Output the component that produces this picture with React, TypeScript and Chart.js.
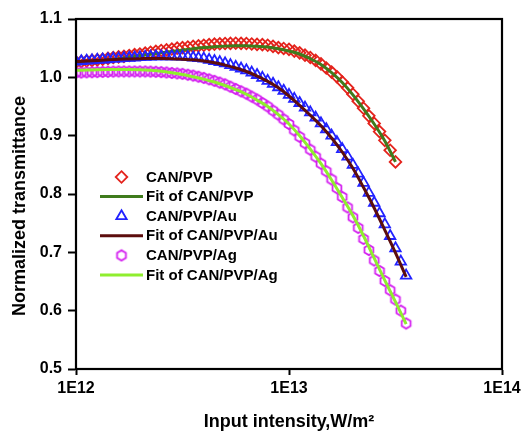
import React, { useEffect, useRef } from 'react';
import { Chart, registerables } from 'chart.js';

Chart.register(...registerables);

// ---------- data (intensities in units of 1E12 W/m^2) ----------
const UNIT = 1e12;

const X_DATA = [
  1.0, 1.059, 1.122, 1.189, 1.259, 1.334, 1.413, 1.496, 1.585, 1.679,
  1.778, 1.884, 1.995, 2.113, 2.239, 2.371, 2.512, 2.661, 2.818, 2.985,
  3.162, 3.35, 3.548, 3.758, 3.981, 4.217, 4.467, 4.732, 5.012, 5.309,
  5.623, 5.957, 6.31, 6.683, 7.079, 7.499, 7.943, 8.414, 8.913, 9.441,
  10.0, 10.59, 11.22, 11.89, 12.59, 13.34, 14.13, 14.96, 15.85, 16.79,
  17.78, 18.84, 19.95, 21.13, 22.39, 23.71, 25.12, 26.61, 28.18, 29.85,
  31.62, 33.5, 35.48,
];

const X_FIT = [
  1.0, 1.122, 1.259, 1.413, 1.585, 1.778, 1.995, 2.239, 2.512, 2.818,
  3.162, 3.548, 3.981, 4.467, 5.012, 5.623, 6.31, 7.079, 7.943, 8.913,
  10.0, 11.22, 12.59, 14.13, 15.85, 17.78, 19.95, 22.39, 25.12, 28.18,
  31.62, 35.48,
];

const CAN_PVP = [
  1.026, 1.027, 1.028, 1.029, 1.03, 1.031, 1.0325, 1.034, 1.035, 1.036,
  1.0375, 1.039, 1.04, 1.0415, 1.043, 1.0445, 1.046, 1.047, 1.0485, 1.05,
  1.051, 1.052, 1.053, 1.054, 1.055, 1.056, 1.057, 1.0575, 1.058, 1.0582,
  1.0585, 1.0583, 1.058, 1.0572, 1.0565, 1.056, 1.055, 1.053, 1.051, 1.0495,
  1.048, 1.045, 1.042, 1.038, 1.034, 1.029, 1.023, 1.016, 1.009, 1.001,
  0.992, 0.982, 0.971, 0.959, 0.947, 0.934, 0.921, 0.907, 0.892, 0.875,
  0.855,
];

const CAN_PVP_AU = [
  1.027, 1.0277, 1.0285, 1.029, 1.03, 1.0305, 1.031, 1.032, 1.032, 1.033,
  1.0335, 1.034, 1.0345, 1.035, 1.0355, 1.036, 1.036, 1.036, 1.036, 1.036,
  1.0355, 1.035, 1.034, 1.033, 1.032, 1.03, 1.028, 1.026, 1.024, 1.021,
  1.018, 1.015, 1.012, 1.008, 1.004, 0.999, 0.994, 0.989, 0.983, 0.977,
  0.97, 0.963, 0.956, 0.948, 0.94, 0.931, 0.921, 0.911, 0.9, 0.889,
  0.877, 0.864, 0.85, 0.835, 0.819, 0.802, 0.785, 0.767, 0.748, 0.728,
  0.707, 0.684, 0.66,
];

const CAN_PVP_AG = [
  1.008, 1.0082, 1.0085, 1.0088, 1.009, 1.0093, 1.0095, 1.0098, 1.01, 1.01,
  1.01, 1.01, 1.01, 1.01, 1.0098, 1.0095, 1.009, 1.0083, 1.0075, 1.0067,
  1.006, 1.0045, 1.003, 1.001, 0.999, 0.9965, 0.994, 0.991, 0.988, 0.984,
  0.98, 0.976, 0.972, 0.967, 0.962, 0.956, 0.95, 0.943, 0.936, 0.928,
  0.92, 0.909, 0.898, 0.887, 0.876, 0.864, 0.852, 0.839, 0.825, 0.81,
  0.795, 0.777, 0.76, 0.742, 0.723, 0.704, 0.686, 0.668, 0.651, 0.635,
  0.619, 0.6, 0.578,
];

const FIT_CAN_PVP = [
  1.025, 1.0265, 1.028, 1.03, 1.032, 1.0345, 1.037, 1.0395, 1.042, 1.0445,
  1.047, 1.049, 1.051, 1.0525, 1.0535, 1.054, 1.054, 1.0532, 1.052, 1.049,
  1.045, 1.04, 1.032, 1.022, 1.008, 0.991, 0.97, 0.946, 0.92, 0.891,
  0.855,
];

const FIT_CAN_PVP_AU = [
  1.027, 1.028, 1.029, 1.03, 1.031, 1.0315, 1.032, 1.0325, 1.0325, 1.032,
  1.031, 1.03, 1.028, 1.025, 1.021, 1.016, 1.01, 1.002, 0.993, 0.982,
  0.968, 0.952, 0.935, 0.917, 0.896, 0.872, 0.844, 0.811, 0.776, 0.738,
  0.699, 0.658,
];

const FIT_CAN_PVP_AG = [
  1.012, 1.0125, 1.013, 1.0133, 1.0135, 1.0135, 1.013, 1.012, 1.0105, 1.008,
  1.005, 1.001, 0.997, 0.992, 0.986, 0.979, 0.971, 0.961, 0.95, 0.936,
  0.92, 0.9, 0.877, 0.852, 0.824, 0.794, 0.763, 0.728, 0.69, 0.652,
  0.615, 0.577,
];

const SERIES_LABELS = [
  'CAN/PVP',
  'Fit of CAN/PVP',
  'CAN/PVP/Au',
  'Fit of CAN/PVP/Au',
  'CAN/PVP/Ag',
  'Fit of CAN/PVP/Ag',
];

const X_TICKS = [1e12, 1e13, 1e14];
const X_TICK_LABELS = ['1E12', '1E13', '1E14'];
const Y_TICKS = [0.5, 0.6, 0.7, 0.8, 0.9, 1.0, 1.1];
const Y_TICK_LABELS = ['0.5', '0.6', '0.7', '0.8', '0.9', '1.0', '1.1'];

const X_TITLE = 'Input intensity,W/m\u00B2';
const Y_TITLE = 'Normalized transmittance';

// ---------- styles ----------
const FONT = "'Liberation Sans', Arial, Helvetica, sans-serif";
const RED = '#e4231c';
const GREEN = '#3f7b1d';
const BLUE = '#2222ff';
const BROWN = '#5c0d0d';
const MAGENTA = '#d422f0';
const LIME = '#8fee2e';
const MARKER_LW = 1.8;

function makeHexagon(color: string): HTMLCanvasElement {
  const c = document.createElement('canvas');
  c.width = 14;
  c.height = 14;
  const ctx = c.getContext('2d')!;
  ctx.strokeStyle = color;
  ctx.lineWidth = MARKER_LW;
  ctx.beginPath();
  for (let i = 0; i < 6; i++) {
    const a = -Math.PI / 2 + (i * Math.PI) / 3;
    const px = 7 + 5.1 * Math.cos(a);
    const py = 7 + 5.1 * Math.sin(a);
    if (i === 0) ctx.moveTo(px, py);
    else ctx.lineTo(px, py);
  }
  ctx.closePath();
  ctx.stroke();
  return c;
}

function pts(xs: number[], ys: number[]) {
  return ys.map((y, i) => ({ x: xs[i] * UNIT, y }));
}

const decorPlugin = {
  id: 'decor',
  afterDatasetsDraw(chart: any) {
    const { ctx, chartArea: a } = chart;
    ctx.save();
    // frame
    ctx.strokeStyle = '#000';
    ctx.lineWidth = 2.2;
    ctx.strokeRect(a.left, a.top, a.right - a.left, a.bottom - a.top);

    // y title
    ctx.save();
    ctx.translate(20.5, 206);
    ctx.rotate(-Math.PI / 2);
    ctx.font = `bold 18px ${FONT}`;
    ctx.fillStyle = '#000';
    ctx.textAlign = 'center';
    ctx.textBaseline = 'middle';
    ctx.fillText(Y_TITLE, 0, 0);
    ctx.restore();

    // legend
    const y0 = 177;
    const step = 19.6;
    const mx = 121.5;
    chart.data.datasets.forEach((ds: any, i: number) => {
      const y = y0 + i * step;
      ctx.save();
      if (ds.showLine === false) {
        const r = ds.pointRadius;
        ctx.strokeStyle = ds.borderColor;
        ctx.lineWidth = ds.pointBorderWidth;
        if (ds.pointStyle === 'rectRot') {
          ctx.beginPath();
          ctx.moveTo(mx, y - r);
          ctx.lineTo(mx + r, y);
          ctx.lineTo(mx, y + r);
          ctx.lineTo(mx - r, y);
          ctx.closePath();
          ctx.stroke();
        } else if (ds.pointStyle === 'triangle') {
          ctx.beginPath();
          ctx.moveTo(mx, y - r);
          ctx.lineTo(mx + r * Math.sin((2 * Math.PI) / 3), y - r * Math.cos((2 * Math.PI) / 3));
          ctx.lineTo(mx + r * Math.sin((4 * Math.PI) / 3), y - r * Math.cos((4 * Math.PI) / 3));
          ctx.closePath();
          ctx.stroke();
        } else if (ds.pointStyle instanceof HTMLCanvasElement) {
          const img = ds.pointStyle;
          ctx.drawImage(img, mx - img.width / 2, y - img.height / 2);
        }
      } else {
        ctx.strokeStyle = ds.borderColor;
        ctx.lineWidth = 3;
        ctx.beginPath();
        ctx.moveTo(100, y);
        ctx.lineTo(143, y);
        ctx.stroke();
      }
      ctx.font = `bold 15px ${FONT}`;
      ctx.fillStyle = '#000';
      ctx.textAlign = 'left';
      ctx.textBaseline = 'middle';
      ctx.fillText(ds.label, 146, y + 0.5);
      ctx.restore();
    });
    ctx.restore();
  },
};

export default function App() {
  const canvasRef = useRef<HTMLCanvasElement | null>(null);

  useEffect(() => {
    const canvas = canvasRef.current;
    if (!canvas) return;
    Chart.defaults.font.family = FONT;
    const hex = makeHexagon(MAGENTA);

    const chart = new Chart(canvas, {
      type: 'line',
      data: {
        datasets: [
          {
            label: SERIES_LABELS[0],
            data: pts(X_DATA, CAN_PVP),
            showLine: false,
            pointStyle: 'rectRot',
            pointRadius: 5.8,
            pointBorderWidth: MARKER_LW,
            borderColor: RED,
            backgroundColor: 'rgba(0,0,0,0)',
            clip: 0,
            order: 5,
          },
          {
            label: SERIES_LABELS[1],
            data: pts(X_FIT, FIT_CAN_PVP),
            borderColor: GREEN,
            borderWidth: 3,
            pointRadius: 0,
            cubicInterpolationMode: 'monotone',
            clip: 0,
            order: 4,
          },
          {
            label: SERIES_LABELS[2],
            data: pts(X_DATA, CAN_PVP_AU),
            showLine: false,
            pointStyle: 'triangle',
            pointRadius: 6,
            pointBorderWidth: MARKER_LW,
            borderColor: BLUE,
            backgroundColor: 'rgba(0,0,0,0)',
            clip: 0,
            order: 3,
          },
          {
            label: SERIES_LABELS[3],
            data: pts(X_FIT, FIT_CAN_PVP_AU),
            borderColor: BROWN,
            borderWidth: 3,
            pointRadius: 0,
            cubicInterpolationMode: 'monotone',
            clip: 0,
            order: 2,
          },
          {
            label: SERIES_LABELS[4],
            data: pts(X_DATA, CAN_PVP_AG),
            showLine: false,
            pointStyle: hex,
            pointRadius: 5,
            pointBorderWidth: MARKER_LW,
            borderColor: MAGENTA,
            backgroundColor: 'rgba(0,0,0,0)',
            clip: 0,
            order: 1,
          },
          {
            label: SERIES_LABELS[5],
            data: pts(X_FIT, FIT_CAN_PVP_AG),
            borderColor: LIME,
            borderWidth: 3,
            pointRadius: 0,
            cubicInterpolationMode: 'monotone',
            clip: 0,
            order: 0,
          },
        ] as any,
      },
      options: {
        responsive: false,
        devicePixelRatio: 1,
        animation: false,
        events: [],
        layout: { padding: { left: 0, top: 19, right: 23, bottom: 0 } },
        plugins: {
          legend: { display: false },
          tooltip: { enabled: false },
        },
        scales: {
          x: {
            type: 'logarithmic',
            min: X_TICKS[0],
            max: X_TICKS[X_TICKS.length - 1],
            afterBuildTicks: (s: any) => {
              s.ticks = X_TICKS.map((v) => ({ value: v }));
            },
            afterFit: (s: any) => {
              s.height = 62;
            },
            ticks: {
              callback: (_v: any, i: number) => X_TICK_LABELS[i],
              font: { family: FONT, size: 16, weight: 'bold' },
              color: '#000',
              padding: 4,
              maxRotation: 0,
              autoSkip: false,
            },
            grid: {
              display: true,
              drawOnChartArea: false,
              drawTicks: true,
              tickLength: 6,
              tickWidth: 2,
              tickColor: '#000',
            },
            border: { display: true, color: '#000', width: 2 },
            title: {
              display: true,
              text: X_TITLE,
              color: '#000',
              font: { family: FONT, size: 18, weight: 'bold' },
              padding: { top: 0, bottom: -2 },
            },
          },
          y: {
            type: 'linear',
            min: Y_TICKS[0],
            max: Y_TICKS[Y_TICKS.length - 1],
            afterBuildTicks: (s: any) => {
              s.ticks = Y_TICKS.map((v) => ({ value: v }));
            },
            afterFit: (s: any) => {
              s.width = 76;
            },
            ticks: {
              callback: (_v: any, i: number) => Y_TICK_LABELS[i],
              font: { family: FONT, size: 16, weight: 'bold' },
              color: '#000',
              padding: 6,
            },
            grid: {
              display: true,
              drawOnChartArea: false,
              drawTicks: true,
              tickLength: 8,
              tickWidth: 2,
              tickColor: '#000',
            },
            border: { display: true, color: '#000', width: 2 },
          },
        },
      } as any,
      plugins: [decorPlugin],
    });

    return () => {
      chart.destroy();
    };
  }, []);

  return (
    <div
      style={{
        position: 'absolute',
        left: 0,
        top: 0,
        width: 525,
        height: 431,
        background: '#fff',
      }}
    >
      <canvas ref={canvasRef} width={525} height={431} style={{ display: 'block' }} />
    </div>
  );
}
